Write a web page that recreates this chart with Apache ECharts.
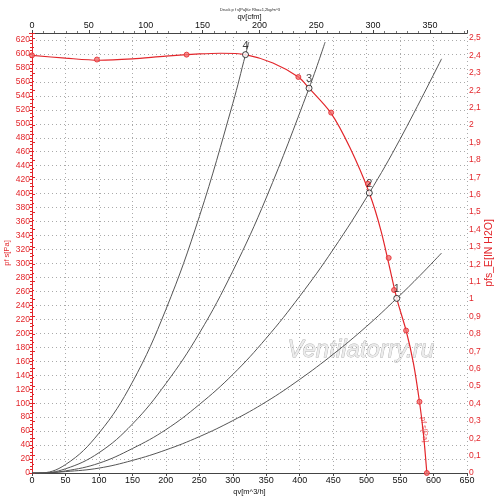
<!DOCTYPE html>
<html lang="de">
<head>
    <meta charset="UTF-8">
    <title>Kennlinie</title>
    <script src="https://cdn.jsdelivr.net/npm/echarts@6/dist/echarts.min.js"></script>
    <style>
        html, body { margin: 0; padding: 0; background: #fff; }
    </style>
</head>
<body>
    <div id="main" style="width: 500px;height:502px;"></div>
    <script type="text/javascript">
        // Lüfterkennlinie (Linie)
        var fanQ = [0, 50, 100, 150, 200, 250, 282, 319, 360, 398, 414, 447, 475, 504, 522, 545, 559, 570, 579, 585, 590];
        var fanP = [598, 594, 591, 593, 597, 600, 601, 599, 587, 567, 551, 515, 466, 401, 345, 250, 204, 157, 102, 55, 0];

        // Messpunkte (rote Kreise)
        var measQ = [0, 97, 231, 398, 447, 502, 533, 541, 559, 579, 590];
        var measP = [598, 592, 599, 567, 516, 414, 308, 262, 204, 102, 0];

        // Betriebspunkte 1..4
        var opNames = ['1', '2', '3', '4'];
        var opQ = [545, 504, 414, 319];
        var opP = [250, 401, 551, 599];

        // Anlagenkennlinien
        var sys1Q = [0, 10, 50, 100, 150, 200, 250, 300, 350, 400, 450, 500, 545, 580, 612];
        var sys1P = [0, 0, 2, 7, 18, 33, 52, 75, 102, 134, 170, 210, 250, 283, 315];
        var sys2Q = [0, 10, 50, 100, 150, 200, 250, 300, 350, 400, 450, 504, 550, 612];
        var sys2P = [0, 0, 3, 14, 35, 62, 98, 141, 193, 253, 320, 401, 478, 593];
        var sys3Q = [0, 10, 50, 100, 150, 200, 250, 300, 350, 414, 438];
        var sys3P = [0, 0, 6, 29, 70, 128, 200, 289, 394, 551, 617];
        var sys4Q = [0, 10, 50, 100, 150, 200, 250, 300, 319, 324];
        var sys4P = [0, 0, 12, 57, 130, 234, 367, 529, 599, 617];

        // Beschriftung der Kennlinie
        var curveLabelQ = 586;
        var curveLabelP = 62;

        var CFM = 1.699;      // m^3/h je cfm
        var INH2O = 249.089;  // Pa je in H2O
        var P_MAX = 630;

        var red = '#e3262b';
        var font = 'Liberation Sans, Arial, sans-serif';
        var gridLine = { show: true, lineStyle: { color: '#aaa', type: [1, 3] } };

        function pairs(xs, ys) {
            return xs.map(function (x, i) { return [x, ys[i]]; });
        }

        function sysSeries(name, xs, ys) {
            return {
                name: name,
                type: 'line',
                data: pairs(xs, ys),
                smooth: 0.4,
                showSymbol: false,
                silent: true,
                lineStyle: { color: '#555', width: 1 },
                z: 2
            };
        }

        var myChart = echarts.init(document.getElementById('main'));

        var option = {
            animation: false,
            backgroundColor: '#fff',
            textStyle: { fontFamily: font },
            title: {
                text: 'Druck p f s[Pa]für Rho=1,2kg/m^3',
                left: 'center',
                top: 3,
                textStyle: { fontSize: 4, fontWeight: 'normal', color: '#222', fontFamily: font }
            },
            grid: { left: 32, right: 33, top: 33, bottom: 29, containLabel: false, outerBoundsMode: 'none' },
            graphic: [{
                type: 'text',
                left: 287,
                top: 338,
                z: -1,
                style: {
                    text: 'Ventilatorry.ru',
                    font: 'italic 24px Liberation Sans, Arial, sans-serif',
                    fill: '#ececec',
                    stroke: '#b0b0b0',
                    lineWidth: 0.8
                }
            }],
            xAxis: [{
                type: 'value',
                position: 'bottom',
                min: 0,
                max: 650,
                interval: 50,
                name: 'qv[m^3/h]',
                nameLocation: 'middle',
                nameGap: 15,
                nameMoveOverlap: false,
                nameTextStyle: { color: '#111', fontSize: 7.5 },
                axisLine: { lineStyle: { color: '#444', width: 1 } },
                axisTick: { length: 3, lineStyle: { color: '#444' } },
                axisLabel: { color: '#111', fontSize: 9, margin: 3 },
                splitLine: gridLine
            }, {
                type: 'value',
                position: 'top',
                min: 0,
                max: 650 / CFM,
                interval: 50,
                name: 'qv[cfm]',
                nameLocation: 'middle',
                nameGap: 12.5,
                nameMoveOverlap: false,
                nameTextStyle: { color: '#111', fontSize: 7.5 },
                axisLine: { onZero: false, lineStyle: { color: '#444', width: 1 } },
                axisTick: { length: 3, lineStyle: { color: '#444' } },
                minorTick: { show: true, splitNumber: 5, length: 2, lineStyle: { color: '#777' } },
                axisLabel: { color: '#111', fontSize: 9, margin: 3, showMaxLabel: false },
                splitLine: { show: false }
            }],
            yAxis: [{
                type: 'value',
                position: 'left',
                min: 0,
                max: P_MAX,
                interval: 20,
                name: 'pf s[Pa]',
                nameLocation: 'middle',
                nameRotate: 90,
                nameGap: 21.5,
                nameMoveOverlap: false,
                nameTextStyle: { color: red, fontSize: 7.5 },
                axisLine: { show: true, lineStyle: { color: red, width: 1 } },
                axisTick: { length: 3, lineStyle: { color: red } },
                minorTick: { show: true, splitNumber: 4, length: 2, lineStyle: { color: red } },
                axisLabel: { color: red, fontSize: 8.5, margin: 2, interval: 0, showMaxLabel: false },
                splitLine: gridLine
            }, {
                type: 'value',
                position: 'right',
                min: 0,
                max: P_MAX / INH2O,
                interval: 0.1,
                name: 'pfs_E[IN H2O]',
                nameLocation: 'middle',
                nameRotate: 90,
                nameGap: 17,
                nameMoveOverlap: false,
                nameTextStyle: { color: red, fontSize: 10.5 },
                axisLine: { show: true, lineStyle: { color: red, width: 1 } },
                axisTick: { length: 3, lineStyle: { color: red } },
                minorTick: { show: true, splitNumber: 2, length: 2, lineStyle: { color: red } },
                axisLabel: {
                    color: red, fontSize: 8.5, margin: 2, interval: 0, showMaxLabel: false,
                    formatter: function (v) { return String(+v.toFixed(1)).replace('.', ','); }
                },
                splitLine: { show: false }
            }],
            series: [
                sysSeries('A1', sys1Q, sys1P),
                sysSeries('A2', sys2Q, sys2P),
                sysSeries('A3', sys3Q, sys3P),
                sysSeries('A4', sys4Q, sys4P),
                {
                    name: 'pf s[Pa]',
                    type: 'line',
                    data: pairs(fanQ, fanP),
                    smooth: 0.3,
                    showSymbol: false,
                    silent: true,
                    lineStyle: { color: red, width: 1.2 },
                    z: 3
                },
                {
                    name: 'Messpunkte',
                    type: 'scatter',
                    data: pairs(measQ, measP),
                    symbol: 'circle',
                    symbolSize: 5,
                    itemStyle: { color: '#f07070', borderColor: red, borderWidth: 1 },
                    z: 4
                },
                {
                    name: 'Betriebspunkte',
                    type: 'scatter',
                    data: pairs(opQ, opP).map(function (d, i) { return { value: d, name: opNames[i] }; }),
                    symbol: 'circle',
                    symbolSize: 6,
                    itemStyle: { color: '#fff', borderColor: '#111', borderWidth: 1 },
                    label: {
                        show: true,
                        position: 'top',
                        distance: 0,
                        formatter: '{b}',
                        color: '#111',
                        fontSize: 11,
                        fontFamily: font
                    },
                    z: 5
                },
                {
                    name: 'Beschriftung',
                    type: 'scatter',
                    data: [[curveLabelQ, curveLabelP]],
                    symbolSize: 1,
                    silent: true,
                    itemStyle: { color: 'transparent' },
                    label: {
                        show: true,
                        position: 'inside',
                        rotate: -84,
                        formatter: 'pf s[Pa]',
                        color: red,
                        fontSize: 7.5,
                        fontFamily: font
                    },
                    z: 5
                }
            ]
        };

        myChart.setOption(option);
    </script>
</body>
</html>
